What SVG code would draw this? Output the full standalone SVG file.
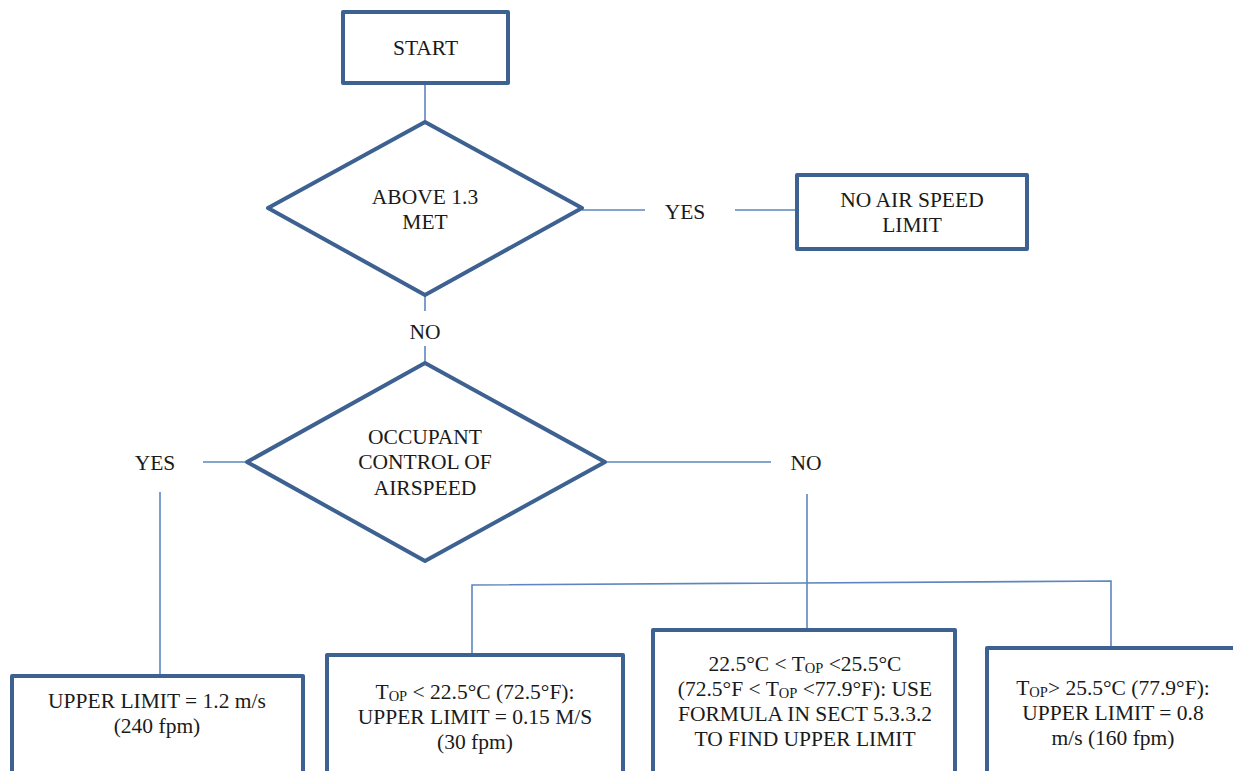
<svg xmlns="http://www.w3.org/2000/svg" width="1233" height="771" viewBox="0 0 1233 771">
<style>
.node{fill:#ffffff;stroke:#3d6190;stroke-width:4;stroke-linejoin:round}
.conn{fill:none;stroke:#5b86c0;stroke-width:1.6}
.t{font-family:'Liberation Serif','Times New Roman',serif;font-size:21.5px;fill:#1a1a1a;text-anchor:middle}
.sub{font-size:14.5px}
</style>
<rect width="1233" height="771" fill="#ffffff"/>
<g id="connectors">
<line class="conn" x1="425" y1="83" x2="425" y2="122"/>
<line class="conn" x1="582" y1="210" x2="645" y2="210"/>
<line class="conn" x1="735" y1="210" x2="797" y2="210"/>
<line class="conn" x1="425" y1="295" x2="425" y2="311"/>
<line class="conn" x1="425" y1="346" x2="425" y2="363"/>
<line class="conn" x1="203" y1="462" x2="247" y2="462"/>
<line class="conn" x1="160" y1="492" x2="160" y2="676"/>
<line class="conn" x1="605" y1="462" x2="771" y2="462"/>
<line class="conn" x1="807" y1="494" x2="807" y2="630"/>
<polyline class="conn" points="472,655 472,585 1111,581 1111,648"/>
<text class="t" x="685" y="219">YES</text>
<text class="t" x="425" y="339">NO</text>
<text class="t" x="155" y="470">YES</text>
<text class="t" x="806" y="470">NO</text>
</g>
<g id="start">
<rect class="node" x="343" y="12" width="165" height="71"/>
<text class="t" x="425.5" y="55">START</text>
</g>
<g id="above-met">
<polygon class="node" points="425,122 582,208 425,295 268,208"/>
<text class="t" x="425" y="204">ABOVE 1.3</text>
<text class="t" x="425" y="229">MET</text>
</g>
<g id="no-limit">
<rect class="node" x="797" y="175" width="230" height="74"/>
<text class="t" x="912" y="207">NO AIR SPEED</text>
<text class="t" x="912" y="232">LIMIT</text>
</g>
<g id="occupant-control">
<polygon class="node" points="425,363 605,462 425,561 247,462"/>
<text class="t" x="425" y="444">OCCUPANT</text>
<text class="t" x="425" y="469">CONTROL OF</text>
<text class="t" x="425" y="495">AIRSPEED</text>
</g>
<g id="limit-1-2">
<rect class="node" x="12" y="676" width="291" height="110"/>
<text class="t" x="157" y="708">UPPER LIMIT = 1.2 m/s</text>
<text class="t" x="157" y="733">(240 fpm)</text>
</g>
<g id="limit-0-15">
<rect class="node" x="327" y="655" width="296" height="130"/>
<text class="t" x="475" y="699">T<tspan class="sub" dy="2">OP</tspan><tspan dy="-2"> &lt; 22.5°C (72.5°F):</tspan></text>
<text class="t" x="475" y="724">UPPER LIMIT = 0.15 M/S</text>
<text class="t" x="475" y="749">(30 fpm)</text>
</g>
<g id="limit-formula">
<rect class="node" x="653" y="630" width="302" height="155"/>
<text class="t" x="805" y="671">22.5°C &lt; T<tspan class="sub" dy="2">OP</tspan><tspan dy="-2"> &lt;25.5°C</tspan></text>
<text class="t" x="805" y="696">(72.5°F &lt; T<tspan class="sub" dy="2">OP</tspan><tspan dy="-2"> &lt;77.9°F): USE</tspan></text>
<text class="t" x="805" y="721">FORMULA IN SECT 5.3.3.2</text>
<text class="t" x="805" y="746">TO FIND UPPER LIMIT</text>
</g>
<g id="limit-0-8">
<rect class="node" x="987" y="648" width="260" height="135"/>
<text class="t" x="1113" y="695">T<tspan class="sub" dy="2">OP</tspan><tspan dy="-2">&gt; 25.5°C (77.9°F):</tspan></text>
<text class="t" x="1113" y="720">UPPER LIMIT = 0.8</text>
<text class="t" x="1113" y="745">m/s (160 fpm)</text>
</g>
</svg>
